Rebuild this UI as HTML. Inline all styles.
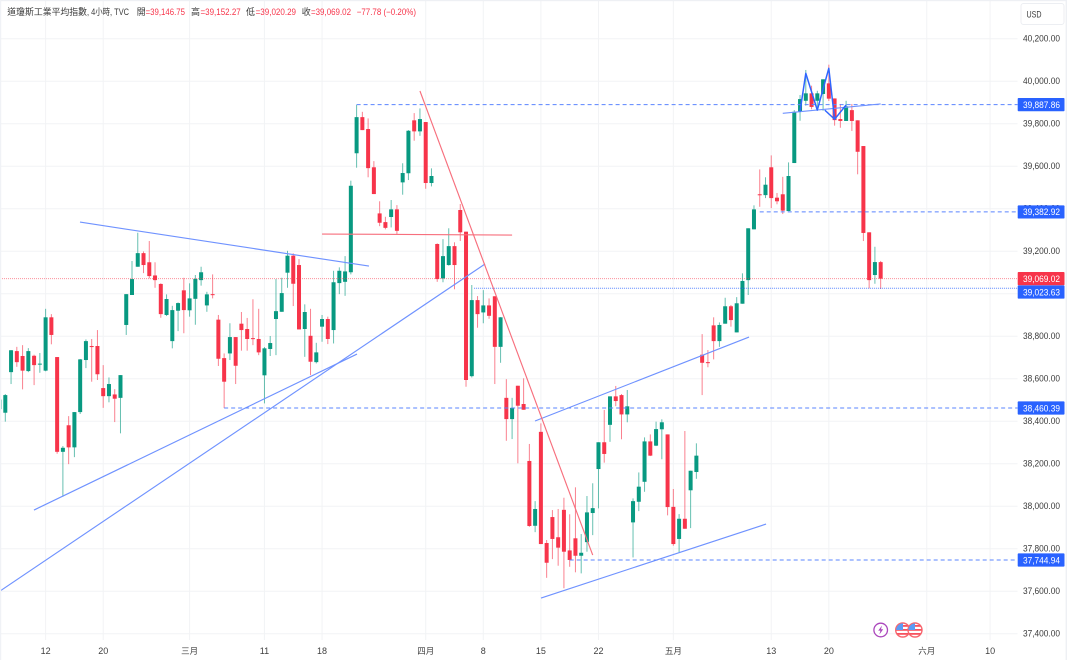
<!DOCTYPE html>
<html lang="zh-Hant">
<head>
<meta charset="utf-8">
<title>道瓊斯工業平均指數 4小時</title>
<style>
html,body{margin:0;padding:0;background:#fff;width:1067px;height:660px;overflow:hidden}
svg{display:block;position:absolute;left:0;top:0;filter:blur(0.35px)}
text{font-family:"Liberation Sans","Noto Sans CJK TC",sans-serif}
</style>
</head>
<body>
<svg id="chart" width="1067" height="660" viewBox="0 0 1067 660" xmlns="http://www.w3.org/2000/svg">
  <defs>
    <clipPath id="flag-clip-a"><circle cx="902.7" cy="630" r="6.6"/></clipPath>
    <clipPath id="flag-clip-b"><circle cx="915" cy="630" r="6.6"/></clipPath>
    <clipPath id="plot-clip"><rect x="0" y="0" width="1017.5" height="640"/></clipPath>
  </defs>
  <rect x="0" y="0" width="1067" height="660" fill="#ffffff"/>
  <g id="grid"></g>
  <g id="candles" clip-path="url(#plot-clip)"></g>
  <g id="drawings" clip-path="url(#plot-clip)"></g>

  <g>
    <g>
      <circle cx="880.7" cy="630" r="6.8" fill="#ffffff" stroke="#ab47bc" stroke-width="1.3"/>
      <polygon points="882,625.5 878.2,630.6 880.4,630.6 879.4,634.5 883.2,629.3 881,629.3" fill="#ab47bc"/>
    </g>
    <g>
      <circle cx="902.7" cy="630" r="7" fill="#ffffff" stroke="#f7666e" stroke-width="1.4"/>
      <g clip-path="url(#flag-clip-a)">
        <rect x="895" y="625" width="16" height="1.8" fill="#f7525f"/>
        <rect x="895" y="629" width="16" height="1.8" fill="#f7525f"/>
        <rect x="895" y="633" width="16" height="1.8" fill="#f7525f"/>
        <rect x="895" y="622" width="8" height="8" fill="#5b9cf6"/>
      </g>
    </g>
    <g>
      <circle cx="915" cy="630" r="7" fill="#ffffff" stroke="#f7666e" stroke-width="1.4"/>
      <g clip-path="url(#flag-clip-b)">
        <rect x="907" y="625" width="16" height="1.8" fill="#f7525f"/>
        <rect x="907" y="629" width="16" height="1.8" fill="#f7525f"/>
        <rect x="907" y="633" width="16" height="1.8" fill="#f7525f"/>
        <rect x="907" y="622" width="8" height="8" fill="#5b9cf6"/>
      </g>
    </g>
  </g>

  <g id="y-axis"></g>
  <g id="x-axis"></g>
  <g id="price-tags"></g>

  <g font-size="9" fill="#3a3a3a">
    <text x="7.3" y="15" textLength="79.7" lengthAdjust="spacingAndGlyphs">道瓊斯工業平均指數</text>
    <text x="87" y="15" textLength="42" lengthAdjust="spacingAndGlyphs">, 4小時, TVC</text>
    <text x="136.7" y="15">開</text>
    <text x="145.6" y="15" fill="#f7344a" textLength="39.4" lengthAdjust="spacingAndGlyphs">=39,146.75</text>
    <text x="191" y="15">高</text>
    <text x="200.5" y="15" fill="#f7344a" textLength="40.2" lengthAdjust="spacingAndGlyphs">=39,152.27</text>
    <text x="246" y="15">低</text>
    <text x="255.6" y="15" fill="#f7344a" textLength="40.4" lengthAdjust="spacingAndGlyphs">=39,020.29</text>
    <text x="301.7" y="15">收</text>
    <text x="311" y="15" fill="#f7344a" textLength="40" lengthAdjust="spacingAndGlyphs">=39,069.02</text>
    <text x="356.7" y="15" fill="#f7344a" textLength="59.3" lengthAdjust="spacingAndGlyphs">−77.78 (−0.20%)</text>
  </g>

  <g>
    <rect x="1021" y="3.5" width="43" height="21" rx="2.5" fill="#ffffff" stroke="#eceef2" stroke-width="1"/>
    <text x="1034" y="17.5" font-size="9" fill="#3a3a3a" text-anchor="middle" textLength="15" lengthAdjust="spacingAndGlyphs">USD</text>
  </g>

  <rect x="0" y="0" width="1067" height="1.2" fill="#eef0f4"/>
  <rect x="0" y="0" width="1.2" height="660" fill="#f0f2f6"/>
  <rect x="1065.6" y="0" width="1.4" height="660" fill="#eef0f4"/>
</svg>

<script>
// One leading partly hidden bar, then the visible bars.
const opens = [38455,
38438,38629,38728,38705,38634,38706,38665,38636,38887,38700,
38254,38379,38275,38441,38686,38752,38752,38554,38516,38524,
38508,38851,38992,39125,39189,39146,39084,39044,38898,38775,
38918,39014,38920,38974,39062,38943,38996,38876,38695,38717,
38794,38857,38832,38789,38785,38614,38738,38879,38913,39097,
39177,39133,38832,38800,38676,38843,38879,38827,39048,39054,
39099,39659,39829,39773,39593,39376,39335,39359,39395,39522,
39565,39814,39762,39806,39519,39232,39070,39133,39222,39392,
39290,38610,38968,38910,38943,38986,38748,38508,38408,38565,
38479,38211,37906,38348,37825,37947,37852,37981,37790,37847,
37765,37829,37966,38173,38299,38381,38515,38521,38430,37922,
38019,38113,38303,38283,38360,38336,37995,37844,37939,38073,
38159,38711,38676,38849,38775,38857,38939,38816,38951,39062,
39301,39466,39462,39593,39450,39466,39387,39613,39854,39906,
39941,39906,39938,39988,39917,39820,39811,39862,39814,39693,
39287,39086,39146.75];
const highs = [38510,
38526,38733,38748,38756,38742,38711,38719,38927,38902,38700,
38281,38422,38441,38691,38783,38785,38827,38662,38604,38549,
38615,38996,39152,39285,39197,39246,39146,39047,38995,38941,
38957,39073,39047,39086,39125,39007,39089,38898,38717,38859,
38794,38912,38884,38972,38927,38747,38799,39067,39073,39200,
39188,39161,38948,38927,38767,38898,38890,39106,39122,39175,
39530,39887,39854,39823,39622,39433,39360,39439,39415,39612,
39768,39848,39870,39806,39588,39235,39255,39306,39240,39420,
39290,39039,38987,39015,38976,38986,38888,38596,38508,38565,
38600,38291,38022,38388,37839,37980,37985,38038,37960,38087,
37867,38046,38106,38299,38451,38515,38564,38526,38545,38035,
38157,38322,38336,38396,38407,38336,38079,37961,38352,38165,
38294,38808,38733,38887,38863,38979,38945,38982,39094,39306,
39414,39583,39546,39649,39472,39548,39616,39862,39933,40051,
39977,39953,40007,40076,39917,39891,39906,39891,39814,39693,
39287,39219,39152.27];
const lows = [38380,
38396,38573,38654,38548,38629,38568,38626,38633,38760,38245,
38043,38196,38229,38432,38648,38584,38592,38461,38487,38394,
38341,38804,38992,39125,39095,39070,39026,38885,38893,38741,
38822,38812,38890,38852,39036,38913,38976,38658,38460,38686,
38573,38730,38730,38756,38709,38482,38705,38709,38913,39026,
38940,38830,38701,38615,38670,38772,38761,38764,38996,38988,
39089,39591,39768,39546,39467,39316,39301,39310,39279,39464,
39533,39718,39741,39492,39503,39054,39052,39130,39019,39246,
38560,38604,38838,38859,38880,38573,38673,38306,38314,38200,
38452,37901,37876,37820,37661,37749,37718,37612,37713,37687,
37682,37784,37862,37988,38203,38301,38469,38313,38393,37757,
37975,38066,38234,38281,38219,37955,37812,37781,37892,37895,
38127,38521,38652,38689,38748,38857,38843,38816,38951,38992,
39301,39407,39448,39401,39419,39373,39387,39613,39812,39883,
39866,39866,39859,39905,39789,39779,39811,39764,39560,39246,
39023,39045,39020.29];
const closes = [38500,
38521,38732,38676,38636,38728,38662,38669,38887,38804,38254,
38273,38275,38441,38689,38775,38747,38619,38516,38573,38504,
38615,38996,39067,39189,39133,39081,39062,38902,38973,38921,
38954,38921,38976,39068,39099,38995,38992,38692,38584,38794,
38659,38827,38785,38785,38722,38741,38766,38916,39001,39177,
39045,38830,38912,38678,38722,38879,38785,39052,39106,39103,
39506,39829,39768,39589,39467,39332,39308,39395,39294,39566,
39765,39762,39820,39519,39552,39067,39175,39222,39133,39287,
38592,38968,38902,38943,38894,38748,38887,38408,38461,38471,
38452,37905,37985,37820,37732,37844,37803,37784,37745,37765,
37779,37969,37989,38299,38244,38515,38493,38430,38468,38022,
38090,38303,38236,38361,38393,37994,37820,37939,37892,38165,
38236,38673,38672,38775,38851,38939,38874,38953,39058,39306,
39395,39462,39511,39448,39433,39389,39552,39854,39914,39941,
39877,39941,40007,39916,39815,39811,39880,39811,39666,39284,
39062,39147,39069.02];

const priceTicks = [40200,40000,39800,39600,39400,39200,39000,38800,38600,38400,38200,38000,37800,37600,37400];
const timeTickLabels = ["12","20","三月","11","18","四月","8","15","22","五月","13","20","六月","10"];
const timeTickBars = [8,18,33,46,56,74,84,94,104,117,134,144,161,172];

// Drawings: bar index / price anchors.
const blueTrendStartBars = [13.97,5.98,0.08,92.98,94.02];
const blueTrendStartPrices = [39335,37980,37599,38399,37566];
const blueTrendEndBars = [64.15,62.07,84.3,130.14,133.1];
const blueTrendEndPrices = [39128,38714,39138,38794,37914];
const redTrendStartBars = [73,56];
const redTrendStartPrices = [39952,39279];
const redTrendEndBars = [103,89];
const redTrendEndPrices = [37768,39274];
const levelPrices = [39887.86,39382.92,38460.39,37744.94];
const levelStartBars = [62,132,39,99];
const patternBars = [139,140,142,144,145,147];
const patternPrices = [39855,40035,39862,40059,39819,39886];
const necklineBars = [136,153];
const necklinePrices = [39847,39891];
const patternLegBars = [143.3,145];
const patternLegPrices = [39862,39819];
const lastPrice = 39069.02;
const dottedLevelPrice = 39023.63;
const dottedLevelStartBar = 82.4;

const NS = "http://www.w3.org/2000/svg";
const UP = "#089981", DOWN = "#f7344a", BLUE = "#2962ff", PLOT_RIGHT = 1017.5, PLOT_BOTTOM = 640;
const TAG_HEIGHT = 13.2;
function xOf(i){ return -0.459 + 5.759 * i; }
function yOf(p){ return 38.3 + (40200 - p) * 0.2125; }
function fmt(p){ return p.toLocaleString("en-US",{minimumFractionDigits:2,maximumFractionDigits:2}); }
function make(tag, attrs, parent){
  const el = document.createElementNS(NS, tag);
  for (const k in attrs) el.setAttribute(k, attrs[k]);
  parent.appendChild(el);
  return el;
}

const grid = document.getElementById("grid");
priceTicks.forEach(function(p){
  const l = make("line",{x1:0,x2:PLOT_RIGHT,y1:yOf(p)+0.4,y2:yOf(p)+0.4,stroke:"#f2f3f5","stroke-width":1},grid);
  
  
});
timeTickBars.forEach(function(b){
  const l = make("line",{x1:xOf(b),x2:xOf(b),y1:0,y2:PLOT_BOTTOM,stroke:"#f2f3f5","stroke-width":1},grid);
  
  
});

const candleLayer = document.getElementById("candles");
opens.forEach(function(o,i){
  const c = closes[i], color = c >= o ? UP : DOWN, x = xOf(i);
  const g = make("g",{},candleLayer);
  
  
  const wick = make("line",{x1:x,x2:x,y1:yOf(highs[i]),y2:yOf(lows[i]),stroke:color,"stroke-width":1,"stroke-opacity":0.62},g);
  
  
  const top = Math.max(o,c), bottom = Math.min(o,c);
  const body = make("rect",{x:x-2,width:4,y:yOf(top),height:Math.max(1,yOf(bottom)-yOf(top)),fill:color},g);
  
  
});

const drawings = document.getElementById("drawings");
const lastLine = make("line",{x1:0,x2:PLOT_RIGHT,y1:yOf(lastPrice),y2:yOf(lastPrice),stroke:"#f7344a","stroke-width":1,"stroke-dasharray":"1 1","stroke-opacity":0.55},drawings);


const dotted = make("line",{x1:xOf(dottedLevelStartBar),x2:PLOT_RIGHT,y1:yOf(dottedLevelPrice),y2:yOf(dottedLevelPrice),stroke:BLUE,"stroke-width":1,"stroke-dasharray":"1 1","stroke-opacity":0.75},drawings);



blueTrendStartBars.forEach(function(b,i){
  const l = make("line",{x1:xOf(b),y1:yOf(blueTrendStartPrices[i]),x2:xOf(blueTrendEndBars[i]),y2:yOf(blueTrendEndPrices[i]),stroke:"#6f92ff","stroke-width":1.15},drawings);
  
  
});
redTrendStartBars.forEach(function(b,i){
  const l = make("line",{x1:xOf(b),y1:yOf(redTrendStartPrices[i]),x2:xOf(redTrendEndBars[i]),y2:yOf(redTrendEndPrices[i]),stroke:"#f76f7d","stroke-width":1.15},drawings);
  
  
});
levelPrices.forEach(function(p,i){
  const l = make("line",{x1:xOf(levelStartBars[i]),x2:PLOT_RIGHT,y1:yOf(p),y2:yOf(p),stroke:"#5a84ff","stroke-width":1,"stroke-dasharray":"4 3"},drawings);
  
  
});
const neck = make("line",{x1:xOf(necklineBars[0]),y1:yOf(necklinePrices[0]),x2:xOf(necklineBars[1]),y2:yOf(necklinePrices[1]),stroke:"#6f92ff","stroke-width":1.2},drawings);


const leg = make("line",{x1:xOf(patternLegBars[0]),y1:yOf(patternLegPrices[0]),x2:xOf(patternLegBars[1]),y2:yOf(patternLegPrices[1]),stroke:"#2f66ff","stroke-width":1.5},drawings);


const wPts = patternBars.map(function(b,i){ return xOf(b).toFixed(1)+","+yOf(patternPrices[i]).toFixed(1); }).join(" ");
const wLine = make("polyline",{points:wPts,fill:"none",stroke:"#2f66ff","stroke-width":1.5,"stroke-linejoin":"round"},drawings);



const yAxis = document.getElementById("y-axis");
priceTicks.forEach(function(p){
  const t = make("text",{x:1023,y:yOf(p)+3.3,"font-size":9.4,fill:"#3a3a3a",textLength:37,lengthAdjust:"spacingAndGlyphs"},yAxis);
  t.textContent = fmt(p);
  
  
});

const xAxis = document.getElementById("x-axis");
timeTickLabels.forEach(function(label,i){
  const t = make("text",{x:xOf(timeTickBars[i]),y:654,"font-size":label.length>1&&label.charCodeAt(0)>255?8.5:9,fill:"#3f3f3f","text-anchor":"middle"},xAxis);
  t.textContent = label;
  
  
});

const tags = document.getElementById("price-tags");
// Tags are drawn at their price, and a lower tag is pushed down so it never covers the one above.
function addTag(price,color,name,minY){
  const y = Math.max(yOf(price), minY);
  const r = make("rect",{x:1017.7,width:46.8,y:y-TAG_HEIGHT/2,height:TAG_HEIGHT,fill:color,rx:0.8},tags);
  
  
  const t = make("text",{x:1023,y:y+3.3,"font-size":9.4,fill:"#ffffff",textLength:37,lengthAdjust:"spacingAndGlyphs"},tags);
  t.textContent = fmt(price);
  
  
}
levelPrices.forEach(function(p){ addTag(p,"#2962ff","price-level-tag",0); });
addTag(lastPrice,"#f7344a","last-price-tag",0);
addTag(dottedLevelPrice,"#2962ff","dotted-level-tag",yOf(lastPrice)+TAG_HEIGHT+0.2);
</script>
</body>
</html>
